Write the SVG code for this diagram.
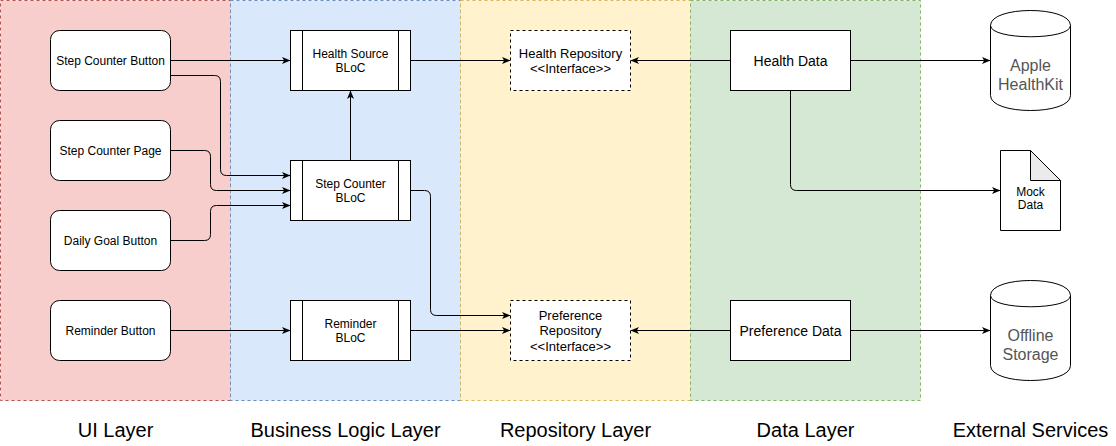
<svg xmlns="http://www.w3.org/2000/svg" width="1116" height="446" viewBox="0 0 1116 446">
<defs>
<marker id="arr" viewBox="0 0 9 8" refX="8.5" refY="4" markerWidth="9" markerHeight="8" orient="auto" markerUnits="userSpaceOnUse">
<path d="M0,0.5 L8.5,4 L0,7.5 L2.2,4 Z" fill="#000"/>
</marker>
</defs>
<style>
text{font-family:"Liberation Sans",Arial,Helvetica,sans-serif;text-anchor:middle;fill:#000}
.lane{stroke-dasharray:3 3;stroke-width:1}
.ui{fill:#fff;stroke:#000;stroke-width:1}
.box{fill:#fff;stroke:#000;stroke-width:1}
.dash{fill:#fff;stroke:#000;stroke-width:1;stroke-dasharray:3 3}
.edge{fill:none;stroke:#000;stroke-width:1;marker-end:url(#arr)}
.t12{font-size:12px}
.t13{font-size:13px}
.t14{font-size:14px}
.ext{font-size:16px;fill:#555}
.lbl{font-size:20px}
</style>
<g id="lanes">
<rect class="lane" x="0.5" y="0.5" width="230" height="400" fill="#f8cecc" stroke="#b85450"/>
<rect class="lane" x="230.5" y="0.5" width="230" height="400" fill="#dae8fc" stroke="#6c8ebf"/>
<rect class="lane" x="460.5" y="0.5" width="230" height="400" fill="#fff2cc" stroke="#d6b656"/>
<rect class="lane" x="690.5" y="0.5" width="230" height="400" fill="#d5e8d4" stroke="#82b366"/>
</g>
<g id="connectors">
<path class="edge" d="M170.5,60.5 H290.5"/>
<path class="edge" d="M170.5,75.5 H214.5 Q220.5,75.5 220.5,81.5 V169.5 Q220.5,175.5 226.5,175.5 H290.5"/>
<path class="edge" d="M170.5,150.5 H204.5 Q210.5,150.5 210.5,156.5 V184.5 Q210.5,190.5 216.5,190.5 H290.5"/>
<path class="edge" d="M170.5,240.5 H204.5 Q210.5,240.5 210.5,234.5 V211.5 Q210.5,205.5 216.5,205.5 H290.5"/>
<path class="edge" d="M350.5,160.5 V90.5"/>
<path class="edge" d="M410.5,60.5 H510.5"/>
<path class="edge" d="M730.5,60.5 H630.5"/>
<path class="edge" d="M850.5,60.5 H990.5"/>
<path class="edge" d="M790.5,90.5 V184.5 Q790.5,190.5 796.5,190.5 H1000.5"/>
<path class="edge" d="M410.5,190.5 H424.5 Q430.5,190.5 430.5,196.5 V309.5 Q430.5,315.5 436.5,315.5 H510.5"/>
<path class="edge" d="M170.5,330.5 H290.5"/>
<path class="edge" d="M410.5,330.5 H510.5"/>
<path class="edge" d="M730.5,330.5 H630.5"/>
<path class="edge" d="M850.5,330.5 H990.5"/>
</g>
<g id="step-counter-button">
<rect class="ui" x="50.5" y="30.5" width="120" height="60" rx="9"/>
<text class="t12" x="110.5" y="64.5">Step Counter Button</text>
</g>
<g id="step-counter-page">
<rect class="ui" x="50.5" y="120.5" width="120" height="60" rx="9"/>
<text class="t12" x="110.5" y="154.5">Step Counter Page</text>
</g>
<g id="daily-goal-button">
<rect class="ui" x="50.5" y="210.5" width="120" height="60" rx="9"/>
<text class="t12" x="110.5" y="244.5">Daily Goal Button</text>
</g>
<g id="reminder-button">
<rect class="ui" x="50.5" y="300.5" width="120" height="60" rx="9"/>
<text class="t12" x="110.5" y="334.5">Reminder Button</text>
</g>
<g id="health-source-bloc">
<rect class="box" x="290.5" y="30.5" width="120" height="60"/>
<path d="M302.5,30.5 V90.5 M398.5,30.5 V90.5" stroke="#000" fill="none"/>
<text class="t12" x="350.5" y="57.5">Health Source</text>
<text class="t12" x="350.5" y="72">BLoC</text>
</g>
<g id="step-counter-bloc">
<rect class="box" x="290.5" y="160.5" width="120" height="60"/>
<path d="M302.5,160.5 V220.5 M398.5,160.5 V220.5" stroke="#000" fill="none"/>
<text class="t12" x="350.5" y="187.5">Step Counter</text>
<text class="t12" x="350.5" y="202">BLoC</text>
</g>
<g id="reminder-bloc">
<rect class="box" x="290.5" y="300.5" width="120" height="60"/>
<path d="M302.5,300.5 V360.5 M398.5,300.5 V360.5" stroke="#000" fill="none"/>
<text class="t12" x="350.5" y="327.5">Reminder</text>
<text class="t12" x="350.5" y="342">BLoC</text>
</g>
<g id="health-repository">
<rect class="dash" x="510.5" y="30.5" width="120" height="60"/>
<text class="t13" x="570.5" y="57.5">Health Repository</text>
<text class="t13" x="570.5" y="73">&lt;&lt;Interface&gt;&gt;</text>
</g>
<g id="preference-repository">
<rect class="dash" x="510.5" y="300.5" width="120" height="60"/>
<text class="t13" x="570.5" y="319.5">Preference</text>
<text class="t13" x="570.5" y="335">Repository</text>
<text class="t13" x="570.5" y="350.5">&lt;&lt;Interface&gt;&gt;</text>
</g>
<g id="health-data">
<rect class="box" x="730.5" y="30.5" width="120" height="60"/>
<text class="t14" x="790.5" y="65.5">Health Data</text>
</g>
<g id="preference-data">
<rect class="box" x="730.5" y="300.5" width="120" height="60"/>
<text class="t14" x="790.5" y="335.5">Preference Data</text>
</g>
<g id="apple-healthkit">
<path class="box" d="M990.5,25.5 C990.5,5.5 1070.5,5.5 1070.5,25.5 L1070.5,95.5 C1070.5,115.5 990.5,115.5 990.5,95.5 Z"/>
<path d="M990.5,25.5 C990.5,40.5 1070.5,40.5 1070.5,25.5" fill="none" stroke="#000"/>
<text class="ext" x="1030.5" y="71">Apple</text>
<text class="ext" x="1030.5" y="90">HealthKit</text>
</g>
<g id="mock-data">
<path class="box" d="M1000.5,150.5 H1030.5 L1060.5,180.5 V230.5 H1000.5 Z"/>
<path d="M1030.5,150.5 V180.5 H1060.5 Z" fill="#ebebeb" stroke="#000"/>
<text x="1030.5" y="196" font-size="12">Mock</text>
<text x="1030.5" y="208.5" font-size="12">Data</text>
</g>
<g id="offline-storage">
<path class="box" d="M990.5,295.5 C990.5,275.5 1070.5,275.5 1070.5,295.5 L1070.5,365.5 C1070.5,385.5 990.5,385.5 990.5,365.5 Z"/>
<path d="M990.5,295.5 C990.5,310.5 1070.5,310.5 1070.5,295.5" fill="none" stroke="#000"/>
<text class="ext" x="1030.5" y="341">Offline</text>
<text class="ext" x="1030.5" y="360">Storage</text>
</g>
<g id="labels">
<text class="lbl" x="115.5" y="437">UI Layer</text>
<text class="lbl" x="345.5" y="437">Business Logic Layer</text>
<text class="lbl" x="575.5" y="437">Repository Layer</text>
<text class="lbl" x="805.5" y="437">Data Layer</text>
<text class="lbl" x="1030.5" y="437">External Services</text>
</g>
</svg>
